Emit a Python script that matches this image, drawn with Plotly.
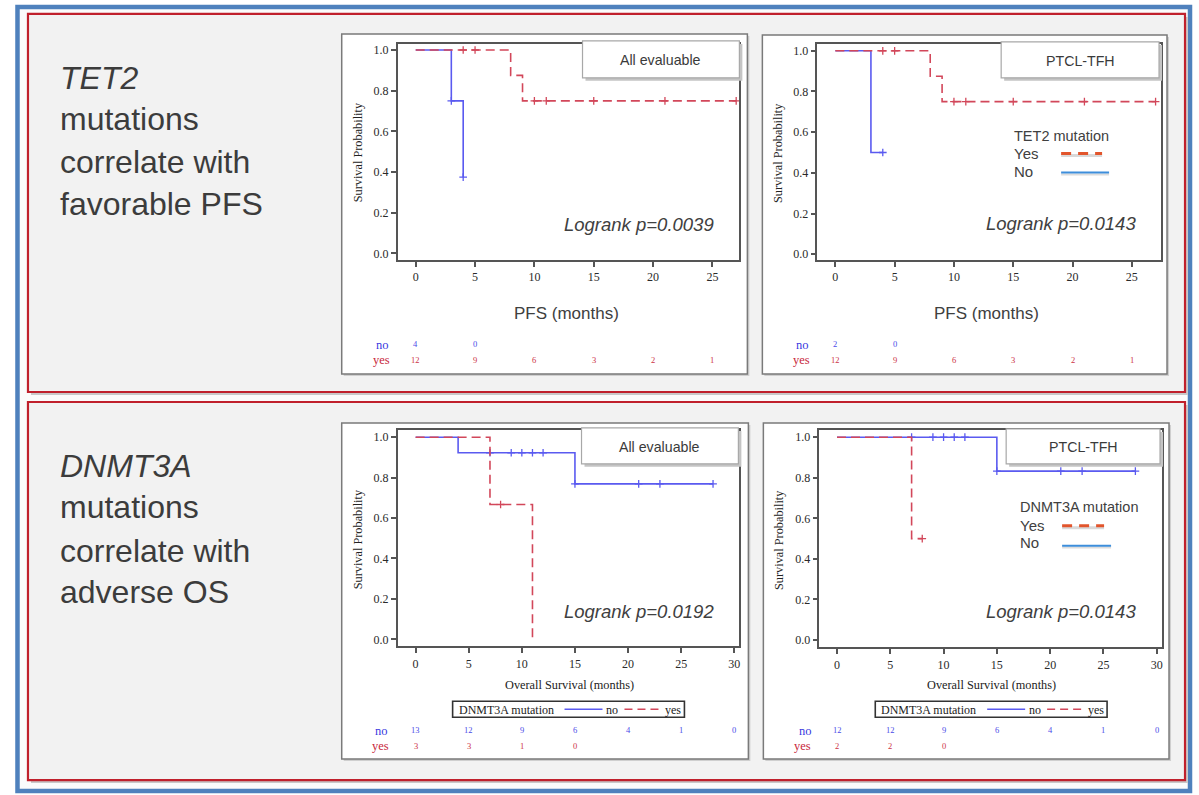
import plotly.graph_objects as go

W, H = 1199, 795

# ---------------- data ----------------
# Panel 1: TET2, PFS, all evaluable
p1_no_t = [0, 3, 4]
p1_no_s = [1.0, 0.75, 0.375]
p1_no_cens_t = [3, 4]
p1_no_cens_s = [0.75, 0.375]
p1_yes_t = [0, 8, 9, 27]
p1_yes_s = [1.0, 0.875, 0.75, 0.75]
p1_yes_cens_t = [4, 5, 10, 11, 15, 21, 27]
p1_yes_cens_s = [1.0, 1.0, 0.75, 0.75, 0.75, 0.75, 0.75]

# Panel 2: TET2, PFS, PTCL-TFH
p2_no_t = [0, 3, 4]
p2_no_s = [1.0, 0.5, 0.5]
p2_no_cens_t = [4]
p2_no_cens_s = [0.5]
p2_yes_t = [0, 8, 9, 27]
p2_yes_s = [1.0, 0.875, 0.75, 0.75]
p2_yes_cens_t = [4, 5, 10, 11, 15, 21, 27]
p2_yes_cens_s = [1.0, 1.0, 0.75, 0.75, 0.75, 0.75, 0.75]

# Panel 3: DNMT3A, OS, all evaluable
p3_no_t = [0, 4, 15, 28]
p3_no_s = [1.0, 0.923, 0.769, 0.769]
p3_no_cens_t = [7, 9, 10, 11, 12, 15, 21, 23, 28]
p3_no_cens_s = [0.923, 0.923, 0.923, 0.923, 0.923, 0.769, 0.769, 0.769, 0.769]
p3_yes_t = [0, 7, 11]
p3_yes_s = [1.0, 0.667, 0.0]
p3_yes_cens_t = [8]
p3_yes_cens_s = [0.667]

# Panel 4: DNMT3A, OS, PTCL-TFH
p4_no_t = [0, 15, 28]
p4_no_s = [1.0, 0.833, 0.833]
p4_no_cens_t = [7, 9, 10, 11, 12, 15, 21, 23, 28]
p4_no_cens_s = [1.0, 1.0, 1.0, 1.0, 1.0, 0.833, 0.833, 0.833, 0.833]
p4_yes_t = [0, 7, 8]
p4_yes_s = [1.0, 0.5, 0.5]
p4_yes_cens_t = [8]
p4_yes_cens_s = [0.5]

# at-risk tables
pfs_ticks = [0, 5, 10, 15, 20, 25]
os_ticks = [0, 5, 10, 15, 20, 25, 30]
p1_risk_no = [4, 0]
p1_risk_yes = [12, 9, 6, 3, 2, 1]
p2_risk_no = [2, 0]
p2_risk_yes = [12, 9, 6, 3, 2, 1]
p3_risk_no = [13, 12, 9, 6, 4, 1, 0]
p3_risk_yes = [3, 3, 1, 0]
p4_risk_no = [12, 12, 9, 6, 4, 1, 0]
p4_risk_yes = [2, 2, 0]

y_ticks = [0.0, 0.2, 0.4, 0.6, 0.8, 1.0]
subsets = ["All evaluable", "PTCL-TFH", "All evaluable", "PTCL-TFH"]
logranks = ["Logrank p=0.0039", "Logrank p=0.0143", "Logrank p=0.0192", "Logrank p=0.0143"]
x_titles = ["PFS (months)", "PFS (months)", "Overall Survival (months)", "Overall Survival (months)"]

# ---------------- style ----------------
BLUE = '#5a5af0'
RED = '#d2475a'
SERIF = 'Liberation Serif, Times New Roman, serif'
SANS = 'Liberation Sans, Arial, sans-serif'
TXT = '#3a3a3a'
AX = '#555555'


def fx(x):
    return x / W


def fy(y):
    return 1 - y / H


panels = [
    dict(frame=(398, 740, 43, 260), xr=[-1.52, 27.27], yr=[-0.034, 1.03], ticks=pfs_ticks,
         no=(p1_no_t, p1_no_s, p1_no_cens_t, p1_no_cens_s),
         yes=(p1_yes_t, p1_yes_s, p1_yes_cens_t, p1_yes_cens_s),
         rno=p1_risk_no, ryes=p1_risk_yes, rows=(345, 360), lab=(383, 382),
         box=(583, 40, 740, 77), xt=(567, 313), yt=(358, 152), lr=(640, 224), legx=None),
    dict(frame=(818, 1162, 43, 260), xr=[-1.52, 27.46], yr=[-0.03, 1.034], ticks=pfs_ticks,
         no=(p2_no_t, p2_no_s, p2_no_cens_t, p2_no_cens_s),
         yes=(p2_yes_t, p2_yes_s, p2_yes_cens_t, p2_yes_cens_s),
         rno=p2_risk_no, ryes=p2_risk_yes, rows=(345, 360), lab=(803, 802),
         box=(1002, 41, 1160, 77), xt=(987, 313), yt=(778, 152), lr=(1062, 223), legx=None),
    dict(frame=(398, 740, 430, 647), xr=[-1.69, 30.48], yr=[-0.035, 1.036], ticks=os_ticks,
         no=(p3_no_t, p3_no_s, p3_no_cens_t, p3_no_cens_s),
         yes=(p3_yes_t, p3_yes_s, p3_yes_cens_t, p3_yes_cens_s),
         rno=p3_risk_no, ryes=p3_risk_yes, rows=(732, 747), lab=(382, 381),
         box=(582, 428, 739, 464), xt=(570, 686), yt=(358, 540), lr=(640, 612), legx=453),
    dict(frame=(820, 1163, 430, 648), xr=[-1.66, 30.5], yr=[-0.036, 1.036], ticks=os_ticks,
         no=(p4_no_t, p4_no_s, p4_no_cens_t, p4_no_cens_s),
         yes=(p4_yes_t, p4_yes_s, p4_yes_cens_t, p4_yes_cens_s),
         rno=p4_risk_no, ryes=p4_risk_yes, rows=(732, 747), lab=(806, 803),
         box=(1007, 429, 1161, 464), xt=(992, 686), yt=(779, 540), lr=(1062, 612), legx=876),
]

fig = go.Figure()
shapes = []
annotations = []


def rect(x0, y0, x1, y1, fill, line=None, lw=0, layer='below'):
    shapes.append(dict(type='rect', xref='paper', yref='paper', x0=fx(x0), x1=fx(x1),
                       y0=fy(y1), y1=fy(y0), fillcolor=fill,
                       line=dict(color=line or fill, width=lw), layer=layer))


def hline(x0, x1, y, color, width, dash='solid', layer='above'):
    shapes.append(dict(type='line', xref='paper', yref='paper', x0=fx(x0), x1=fx(x1),
                       y0=fy(y), y1=fy(y), line=dict(color=color, width=width, dash=dash),
                       layer=layer))


def text(x, y, s, size, family=SANS, color=TXT, xanchor='center', yanchor='middle', angle=0,
         xref='paper', yref='paper', raw_x=False):
    annotations.append(dict(x=x if raw_x else fx(x), y=fy(y), xref=xref, yref=yref, text=s,
                            showarrow=False, xanchor=xanchor, yanchor=yanchor, textangle=angle,
                            font=dict(size=size, family=family, color=color)))


# outer frame and red boxes
rect(17.5, 6, 1191, 792, '#fbfbfb', '#4f81bd', 4.5)
for (y0, y1) in [(13, 392), (402, 781)]:
    rect(31, y0 + 3, 1189, y1 + 3, '#c9c9c9')
    rect(28, y0, 1186, y1, '#f2f2f2', '#c0202c', 2.2)

# white panels
for (x0, y0, x1, y1) in [(342, 33, 748, 374), (763, 34, 1168, 374),
                         (342, 423, 749, 760), (764, 423, 1170, 760)]:
    rect(x0 + 2, y0 + 2, x1 + 2, y1 + 2, '#cfcfcf')
    rect(x0, y0, x1, y1, 'white', '#7a7a7a', 1.5)

layout_axes = {}
for i, p in enumerate(panels):
    k = '' if i == 0 else str(i + 1)
    xa, ya = 'x' + k, 'y' + k
    fl, fr, ft, fb = p['frame']
    layout_axes['xaxis' + k] = dict(
        domain=[fx(fl), fx(fr)], anchor=ya, range=p['xr'], tickvals=p['ticks'],
        showline=True, mirror=True, linecolor=AX, linewidth=1.5, ticks='outside',
        ticklen=5, tickwidth=1.5, tickcolor=AX, showgrid=False, zeroline=False,
        tickfont=dict(family=SERIF, size=12, color='#2a2a2a'), fixedrange=True)
    layout_axes['yaxis' + k] = dict(
        domain=[fy(fb), fy(ft)], anchor=xa, range=p['yr'], tickvals=y_ticks, tickformat='.1f',
        showline=True, mirror=True, linecolor=AX, linewidth=1.5, ticks='outside',
        ticklen=5, tickwidth=1.5, tickcolor=AX, showgrid=False, zeroline=False,
        tickfont=dict(family=SERIF, size=12, color='#2a2a2a'), fixedrange=True)

    for grp, col, dash in [('no', BLUE, 'solid'), ('yes', RED, '9px,5px')]:
        t, s, ct, cs = p[grp]
        fig.add_trace(go.Scatter(
            x=t, y=s, mode='lines', line=dict(color=col, width=1.6, dash=dash, shape='hv'),
            xaxis=xa, yaxis=ya, name=grp, showlegend=False))
        fig.add_trace(go.Scatter(
            x=ct, y=cs, mode='markers', xaxis=xa, yaxis=ya, showlegend=False,
            marker=dict(symbol='cross-thin', size=5.5, line=dict(color=col, width=1.3))))

    # subset box
    bx0, by0, bx1, by1 = p['box']
    rect(bx0 + 3, by0 + 3, bx1 + 3, by1 + 3, '#c4c4c4', layer='above')
    rect(bx0, by0, bx1, by1, 'white', '#a8a8a8', 1.2, layer='above')
    text((bx0 + bx1) / 2, (by0 + by1) / 2 + 1, subsets[i], 14.2)

    # titles
    if i < 2:
        text(p['xt'][0], p['xt'][1], x_titles[i], 17, SANS, '#404040')
    else:
        text(p['xt'][0], p['xt'][1], x_titles[i], 12.3, SERIF, '#222')
    text(p['yt'][0], p['yt'][1], 'Survival Probability', 12.3, SERIF, '#222', angle=-90)
    text(p['lr'][0], p['lr'][1], '<i>' + logranks[i] + '</i>', 18.5, SANS, '#404040')

    # bottom legend box (OS panels)
    if p['legx'] is not None:
        lx = p['legx']
        rect(lx, 702, lx + 232, 718, 'white', '#333333', 1.6, layer='above')
        text(lx + 4, 710.5, 'DNMT3A mutation', 12, SERIF, '#222', xanchor='left')
        hline(lx + 112, lx + 150, 710, BLUE, 1.5)
        text(lx + 152, 710.5, 'no', 12, SERIF, '#222', xanchor='left')
        hline(lx + 172, lx + 209, 710, RED, 1.5, dash='8px,5px')
        text(lx + 211, 710.5, 'yes', 12, SERIF, '#222', xanchor='left')

    # at-risk table
    rno, ryes = p['rows']
    text(p['lab'][0], rno, 'no', 12.5, SERIF, '#3838e0')
    text(p['lab'][1], ryes, 'yes', 12.5, SERIF, '#c8283c')
    for tt, v in zip(p['ticks'], p['rno']):
        text(tt, rno - 1, str(v), 8.5, SERIF, '#4a4ae8', xref=xa, raw_x=True)
    for tt, v in zip(p['ticks'], p['ryes']):
        text(tt, ryes, str(v), 8.5, SERIF, '#cc3346', xref=xa, raw_x=True)

# inset legends (pasted labels)
for (tx, title, ty, yy, ny, lx0, lx1a, lx1b, ly_yes, ly_no) in [
        (1013, 'TET2 mutation', 135, 153, 171, 1062, 1103, 1110, 153, 172),
        (1019, 'DNMT3A mutation', 507, 526, 543, 1063, 1105, 1112, 526, 546)]:
    text(tx, ty, title, 14.5, SANS, '#404040', xanchor='left')
    text(tx, yy, 'Yes', 15, SANS, '#404040', xanchor='left')
    text(tx, ny, 'No', 15, SANS, '#404040', xanchor='left')
    hline(lx0, lx1a, ly_yes + 2, '#d9d9d9', 3)
    hline(lx0, lx1a, ly_yes, '#e2552c', 3, dash='10px,7px')
    hline(lx0, lx1b, ly_no + 2, '#dcdcdc', 2)
    hline(lx0, lx1b, ly_no, '#3d8edb', 2)

# left-hand statements
for (y, s) in [(77, '<i>TET2</i>'), (118, 'mutations'), (161, 'correlate with'), (204, 'favorable PFS'),
               (466, '<i>DNMT3A</i>'), (507, 'mutations'), (551, 'correlate with'), (592, 'adverse OS')]:
    text(58, y, s, 32, SANS, '#3c3c3c', xanchor='left')

fig.update_layout(
    width=W, height=H, margin=dict(l=0, r=0, t=0, b=0),
    paper_bgcolor='white', plot_bgcolor='white',
    shapes=shapes, annotations=annotations, showlegend=False,
    **layout_axes)

fig.write_html('out.html')
